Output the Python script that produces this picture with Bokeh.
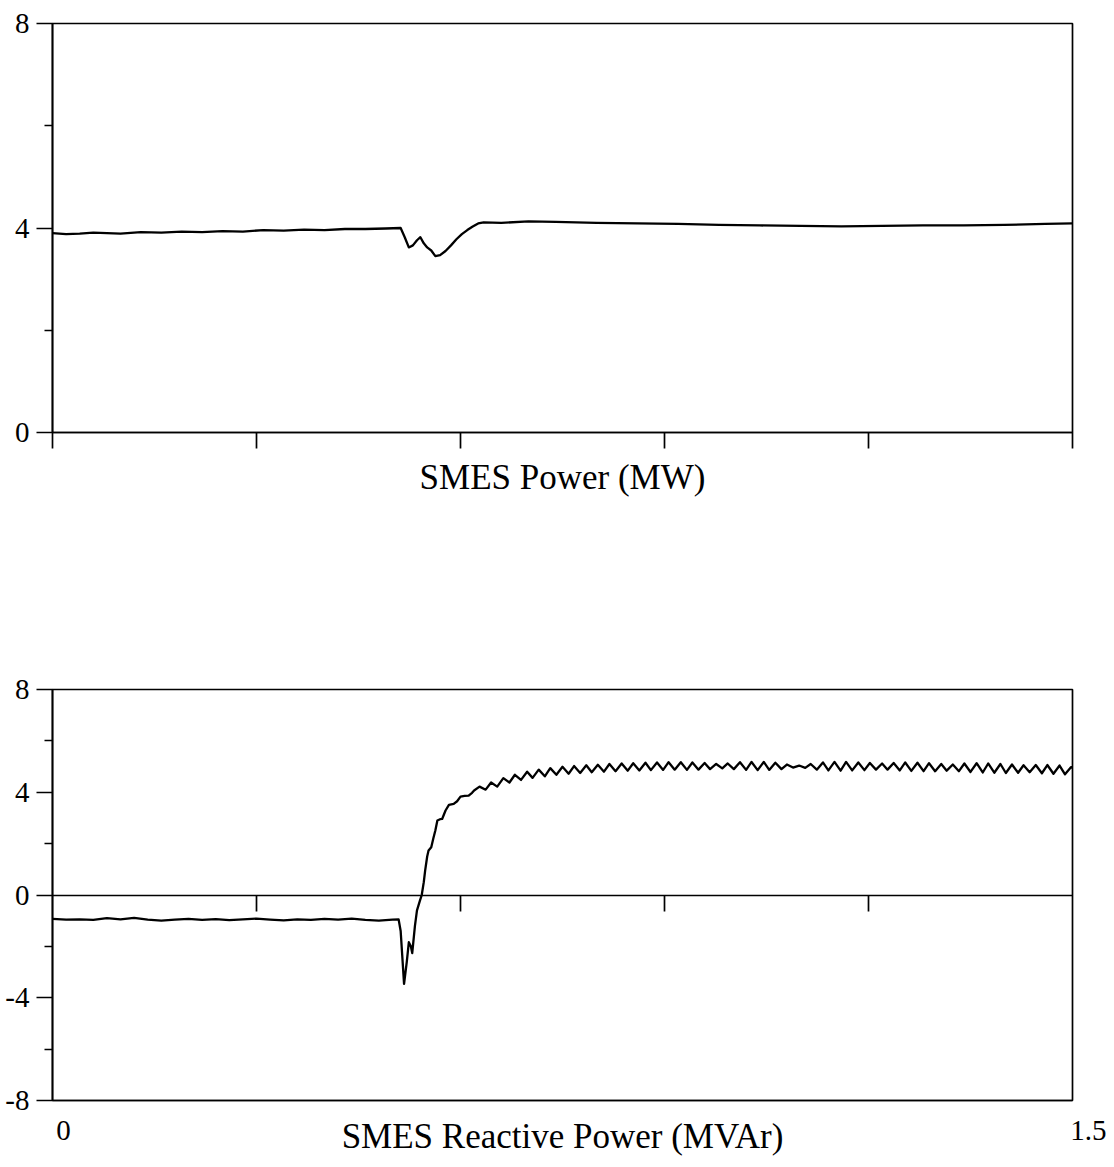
from bokeh.plotting import figure
from bokeh.models import LinearAxis, FixedTicker, Range1d, CustomJSTickFormatter
from bokeh.layouts import column
from bokeh.embed import file_html
from bokeh.resources import INLINE

FONT = "Liberation Serif"
NB = "\u00a0"

# ---------------- data ----------------
x_ticks = [0, 0.3, 0.6, 0.9, 1.2, 1.5]
x_ticks_zero = [0.3, 0.6, 0.9, 1.2]
x_end_labels = [0, 1.5]
x_end_texts = ["0", "1.5"]

p_major = [0, 4, 8]
p_minor = [2, 6]
q_major = [-8, -4, 0, 4, 8]
q_minor = [-6, -2, 2, 6]

# SMES Power (MW)
t_p = [0, 0.02, 0.04, 0.06, 0.08, 0.10, 0.13, 0.16, 0.19, 0.22, 0.25, 0.28, 0.31,
       0.34, 0.37, 0.40, 0.43, 0.46, 0.49, 0.512, 0.518, 0.524, 0.530, 0.536, 0.541,
       0.546, 0.551, 0.557, 0.563, 0.570, 0.578, 0.586, 0.594, 0.602, 0.610, 0.618,
       0.626, 0.634, 0.66, 0.70, 0.74, 0.80, 0.86, 0.92, 0.98, 1.04, 1.10, 1.16,
       1.22, 1.28, 1.34, 1.40, 1.46, 1.5]
p_mw = [3.90, 3.88, 3.89, 3.91, 3.90, 3.89, 3.92, 3.91, 3.93, 3.92, 3.94, 3.93, 3.96,
        3.95, 3.97, 3.96, 3.98, 3.98, 3.99, 4.00, 3.82, 3.62, 3.66, 3.76, 3.82,
        3.70, 3.62, 3.56, 3.45, 3.47, 3.55, 3.66, 3.78, 3.88, 3.96, 4.03,
        4.09, 4.11, 4.10, 4.13, 4.12, 4.10, 4.09, 4.08, 4.06, 4.05, 4.04, 4.03,
        4.04, 4.05, 4.05, 4.06, 4.08, 4.09]

# SMES Reactive Power (MVAr)
t_q = [0, 0.02, 0.04, 0.06, 0.08, 0.10, 0.12, 0.14, 0.16, 0.18, 0.20, 0.22, 0.24,
       0.26, 0.28, 0.30, 0.32, 0.34, 0.36, 0.38, 0.40, 0.42, 0.44, 0.46, 0.48, 0.50,
       0.509, 0.512, 0.517, 0.521, 0.524, 0.527, 0.529, 0.533, 0.536, 0.540, 0.543,
       0.546, 0.548, 0.551, 0.553, 0.557, 0.560, 0.563, 0.566, 0.570, 0.573, 0.578,
       0.583, 0.590, 0.595, 0.600, 0.606, 0.612, 0.617, 0.620,
       0.628, 0.637, 0.645, 0.654, 0.663, 0.672, 0.680, 0.689, 0.698, 0.706,
       0.715, 0.724, 0.732, 0.741, 0.750, 0.759, 0.767, 0.776, 0.785, 0.793,
       0.802, 0.811, 0.819, 0.828, 0.837, 0.846, 0.854, 0.863, 0.872, 0.880,
       0.889, 0.898, 0.906, 0.915, 0.924, 0.933, 0.941, 0.950, 0.959, 0.967,
       0.976, 0.985, 0.993, 1.002, 1.011, 1.020, 1.028, 1.037, 1.046, 1.054,
       1.063, 1.072, 1.080, 1.089, 1.098, 1.107, 1.115, 1.124, 1.133, 1.141,
       1.150, 1.159, 1.167, 1.176, 1.185, 1.194, 1.202, 1.211, 1.220, 1.228,
       1.237, 1.246, 1.254, 1.263, 1.272, 1.281, 1.289, 1.298, 1.307, 1.315,
       1.324, 1.333, 1.341, 1.350, 1.359, 1.368, 1.376, 1.385, 1.394, 1.402,
       1.411, 1.420, 1.428, 1.437, 1.446, 1.455, 1.463, 1.472, 1.481, 1.489,
       1.498, 1.5]
q_mvar = [-0.93, -0.96, -0.95, -0.97, -0.90, -0.95, -0.89, -0.96, -1.00, -0.96, -0.93, -0.97, -0.94,
          -0.98, -0.95, -0.92, -0.96, -0.99, -0.95, -0.97, -0.93, -0.96, -0.92, -0.97, -1.00, -0.96,
          -0.95, -1.40, -3.46, -2.60, -1.84, -2.00, -2.26, -1.20, -0.60, -0.25, 0.00,
          0.50, 0.95, 1.50, 1.73, 1.86, 2.20, 2.51, 2.90, 2.95, 2.96, 3.29,
          3.51, 3.55, 3.65, 3.83, 3.86, 3.87, 3.98, 4.07,
          4.22, 4.10, 4.38, 4.22, 4.55, 4.38, 4.68, 4.48, 4.80, 4.56,
          4.88, 4.62, 4.94, 4.68, 4.99, 4.72, 5.02, 4.75, 5.05, 4.78,
          5.07, 4.80, 5.10, 4.82, 5.12, 4.84, 5.13, 4.85, 5.15, 4.86,
          5.16, 4.87, 5.17, 4.88, 5.17, 4.87, 5.16, 4.88, 5.14, 4.90,
          5.10, 4.93, 5.12, 4.90, 5.17, 4.87, 5.18, 4.86, 5.18, 4.87,
          5.15, 4.90, 5.08, 4.96, 5.04, 4.95, 5.10, 4.88, 5.16, 4.85,
          5.18, 4.84, 5.18, 4.85, 5.16, 4.86, 5.14, 4.88, 5.12, 4.88,
          5.14, 4.85, 5.16, 4.83, 5.15, 4.82, 5.13, 4.82, 5.10, 4.84,
          5.08, 4.82, 5.12, 4.79, 5.13, 4.77, 5.12, 4.76, 5.10, 4.75,
          5.08, 4.76, 5.05, 4.78, 5.06, 4.74, 5.06, 4.72, 5.04, 4.70,
          4.98, 4.95]

LW = 1.7


def style_yaxis(ax, major, minor):
    ax.ticker = FixedTicker(ticks=major, minor_ticks=minor)
    ax.major_label_overrides = {v: str(v) for v in major}
    ax.major_tick_out = 16
    ax.major_tick_in = 0
    ax.minor_tick_out = 8
    ax.minor_tick_in = 0
    ax.major_tick_line_width = LW
    ax.minor_tick_line_width = LW
    ax.axis_line_width = LW
    ax.major_label_standoff = 7
    ax.major_label_text_font = FONT
    ax.major_label_text_font_size = "29px"
    ax.major_label_text_color = "black"


def make_fig(height, ymin, ymax, top, bottom):
    p = figure(width=1106, height=height,
               x_range=Range1d(0, 1.5), y_range=Range1d(ymin, ymax),
               output_backend="svg", toolbar_location=None,
               x_axis_location=None,
               min_border_left=52, min_border_right=34,
               min_border_top=top, min_border_bottom=bottom)
    for g in p.grid:
        g.visible = False
    p.outline_line_color = "black"
    p.outline_line_width = LW
    p.outline_line_alpha = 1
    p.background_fill_color = "white"
    p.border_fill_color = "white"
    return p


blank = CustomJSTickFormatter(code="return ''")

# ---------- top plot ----------
p1 = make_fig(500, 0, 8, 23, 68)
style_yaxis(p1.yaxis[0], p_major, p_minor)
xa = LinearAxis(ticker=FixedTicker(ticks=x_ticks, minor_ticks=[]),
                formatter=blank,
                axis_label="SMES Power (MW)",
                major_tick_out=16, major_tick_in=0,
                major_tick_line_width=LW, axis_line_width=LW,
                major_label_standoff=0, axis_label_standoff=9,
                axis_label_text_font=FONT, axis_label_text_font_size="35px",
                axis_label_text_font_style="normal", axis_label_text_color="black")
p1.add_layout(xa, "below")
p1.line(t_p, p_mw, line_color="black", line_width=2.3, line_join="round")

# ---------- bottom plot ----------
p2 = make_fig(662, -8, 8, 189, 62)
style_yaxis(p2.yaxis[0], q_major, q_minor)
# tick labels drawn left-aligned at their ticks (padding with no-break spaces)
end_overrides = {x_end_labels[0]: NB * 3 + x_end_texts[0],
                 x_end_labels[1]: NB * 5 + x_end_texts[1]}
xb = LinearAxis(ticker=FixedTicker(ticks=x_end_labels, minor_ticks=[]),
                major_label_overrides=end_overrides,
                axis_label="SMES Reactive Power (MVAr)",
                major_tick_out=0, major_tick_in=0,
                axis_line_width=LW,
                major_label_standoff=13, axis_label_standoff=-32,
                major_label_text_font=FONT, major_label_text_font_size="29px",
                major_label_text_color="black",
                axis_label_text_font=FONT, axis_label_text_font_size="35px",
                axis_label_text_font_style="normal", axis_label_text_color="black")
p2.add_layout(xb, "below")
za = LinearAxis(fixed_location=0,
                ticker=FixedTicker(ticks=x_ticks_zero, minor_ticks=[]),
                formatter=blank,
                major_tick_out=16, major_tick_in=0,
                major_tick_line_width=LW, axis_line_width=LW)
p2.add_layout(za, "below")
p2.line(t_q, q_mvar, line_color="black", line_width=2.3, line_join="round")

layout = column(p1, p2)
open("out.html", "w").write(file_html(layout, INLINE))
